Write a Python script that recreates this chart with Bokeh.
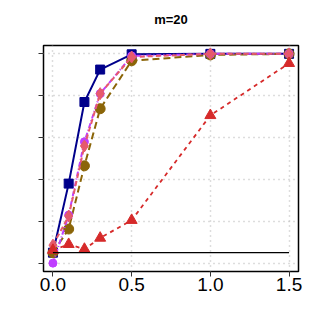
from bokeh.plotting import figure
from bokeh.models import Title, FixedTicker, CustomJSTickFormatter, Range1d, NumeralTickFormatter
from bokeh.embed import file_html
from bokeh.resources import INLINE

x = [0.0, 0.1, 0.2, 0.3, 0.5, 1.0, 1.5]
blue = [0.05, 0.38, 0.77, 0.925, 0.998, 1.0, 1.0]
brown = [0.05, 0.163, 0.465, 0.738, 0.967, 0.995, 1.0]
purple = [0.0, 0.23, 0.58, 0.81, 0.99, 1.0, 1.0]
pink = [0.086, 0.225, 0.56, 0.81, 0.985, 1.0, 1.0]
red = [0.062, 0.09, 0.067, 0.12, 0.205, 0.706, 0.955]
ref_x = [0.0, 1.5]
ref_y = [0.05, 0.05]
xticks = [0.0, 0.5, 1.0, 1.5]
yticks = [0.0, 0.2, 0.4, 0.6, 0.8, 1.0]
title_text = "m=20"

p = figure(width=313, height=319, output_backend="svg", toolbar_location=None,
           x_range=Range1d(-0.06, 1.56), y_range=Range1d(-0.04, 1.04),
           min_border_left=43, min_border_right=15, min_border_top=45, min_border_bottom=48)
p.add_layout(Title(text=" ", text_font_size="11px", standoff=0), "above")
p.add_layout(Title(text=title_text, align="center", text_font_size="13px",
                   text_font_style="bold", text_font="Liberation Sans",
                   text_color="black"), "above")
p.outline_line_color = "black"
p.outline_line_width = 1.5
p.outline_line_alpha = 1.0

for ax in (p.xaxis[0], p.yaxis[0]):
    ax.axis_line_color = None
    ax.major_tick_in = 0
    ax.major_tick_out = 5
    ax.major_tick_line_color = "#333333"
    ax.minor_tick_line_color = None
p.xaxis.ticker = FixedTicker(ticks=xticks)
p.yaxis.ticker = FixedTicker(ticks=yticks)
p.xaxis.formatter = NumeralTickFormatter(format="0.0")
p.xaxis.major_label_text_font_size = "19px"
p.xaxis.major_label_text_font = "Liberation Sans"
p.xaxis.major_label_text_color = "black"
p.xaxis.major_label_standoff = 1
p.yaxis.formatter = CustomJSTickFormatter(code="return ''")

for g in (p.xgrid[0], p.ygrid[0]):
    g.grid_line_color = "#bbbbbb"
    g.grid_line_dash = "1 4"
    g.grid_line_width = 1.5
p.xgrid.ticker = FixedTicker(ticks=xticks)
p.ygrid.ticker = FixedTicker(ticks=yticks)

c_blue = "#00008B"
c_brown = "#8B6508"
c_purple = "#BF3EFF"
c_pink = "#E65A6C"
c_red = "#D62A2A"

p.line(x, blue, line_color=c_blue, line_width=2)
p.scatter(x, blue, marker="square", size=9, fill_color=c_blue, line_color=c_blue)

p.line(x, brown, line_color=c_brown, line_width=2, line_dash="7 4")
p.scatter(x, brown, marker="circle", size=10, fill_color=c_brown, line_color=c_brown)

p.line(x, purple, line_color=c_purple, line_width=2, line_dash="5 2 1 2")
p.scatter(x, purple, marker="circle", size=8, fill_color=c_purple, line_color=c_purple)

p.line(x, pink, line_color=c_pink, line_width=2, line_dash="5 3")
p.scatter(x, pink, marker="diamond", size=12, fill_color=c_pink, line_color=c_pink)

p.line(x, red, line_color=c_red, line_width=1.8, line_dash="4 4")
p.scatter(x, red, marker="triangle", size=11, fill_color=c_red, line_color=c_red)

p.line(ref_x, ref_y, line_color="black", line_width=1.3)

open("out.html", "w").write(file_html(p, INLINE))
